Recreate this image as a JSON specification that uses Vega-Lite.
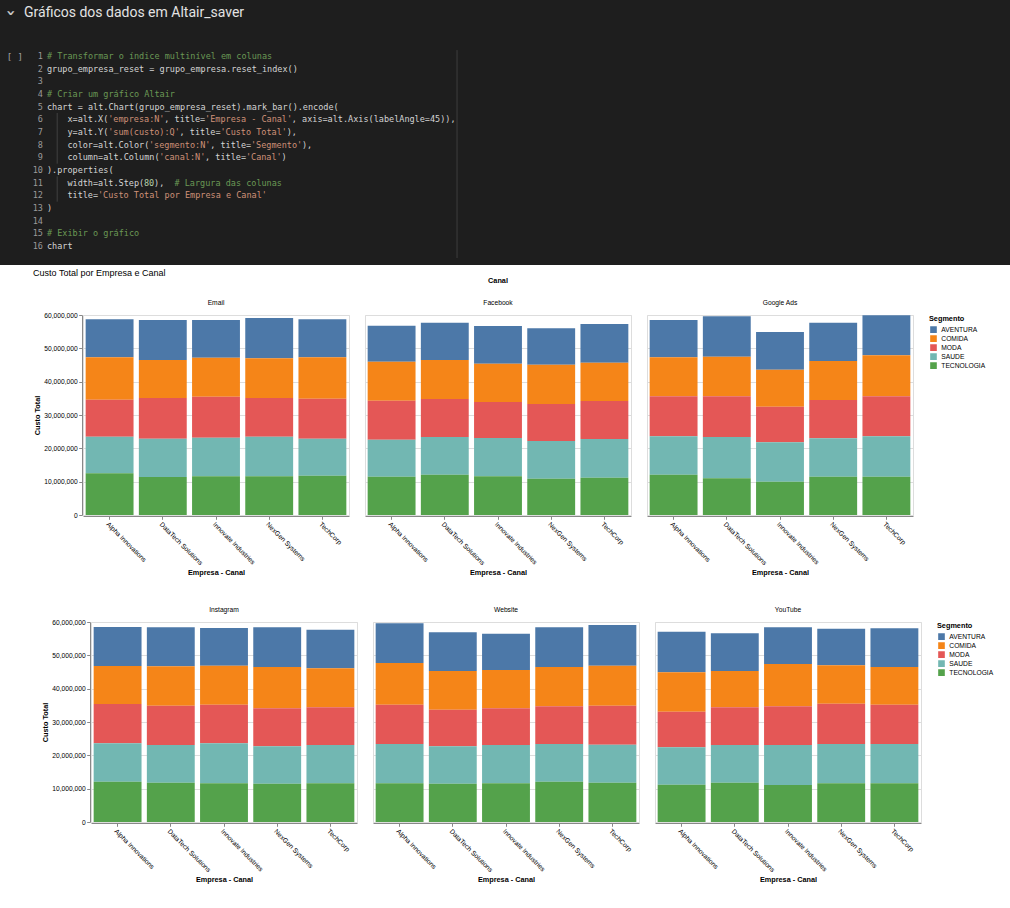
{
  "$schema": "https://vega.github.io/schema/vega-lite/v6.json",
  "background": "white",
  "padding": 0,
  "spacing": 3,
  "datasets": {
    "custos": [
      {"canal": "Email", "empresa": "Alpha Innovations", "AVENTURA": 11400000, "COMIDA": 12700000, "MODA": 11100000, "SAUDE": 11000000, "TECNOLOGIA": 12500000},
      {"canal": "Email", "empresa": "DataTech Solutions", "AVENTURA": 12000000, "COMIDA": 11400000, "MODA": 12200000, "SAUDE": 11500000, "TECNOLOGIA": 11400000},
      {"canal": "Email", "empresa": "Innovate Industries", "AVENTURA": 11300000, "COMIDA": 11700000, "MODA": 12300000, "SAUDE": 11600000, "TECNOLOGIA": 11600000},
      {"canal": "Email", "empresa": "NexGen Systems", "AVENTURA": 12100000, "COMIDA": 11900000, "MODA": 11600000, "SAUDE": 11900000, "TECNOLOGIA": 11600000},
      {"canal": "Email", "empresa": "TechCorp", "AVENTURA": 11400000, "COMIDA": 12400000, "MODA": 12000000, "SAUDE": 11100000, "TECNOLOGIA": 11800000},
      {"canal": "Facebook", "empresa": "Alpha Innovations", "AVENTURA": 10800000, "COMIDA": 11700000, "MODA": 11700000, "SAUDE": 11100000, "TECNOLOGIA": 11500000},
      {"canal": "Facebook", "empresa": "DataTech Solutions", "AVENTURA": 11200000, "COMIDA": 11700000, "MODA": 11400000, "SAUDE": 11300000, "TECNOLOGIA": 12100000},
      {"canal": "Facebook", "empresa": "Innovate Industries", "AVENTURA": 11300000, "COMIDA": 11500000, "MODA": 10800000, "SAUDE": 11500000, "TECNOLOGIA": 11600000},
      {"canal": "Facebook", "empresa": "NexGen Systems", "AVENTURA": 10900000, "COMIDA": 11800000, "MODA": 11100000, "SAUDE": 11300000, "TECNOLOGIA": 10900000},
      {"canal": "Facebook", "empresa": "TechCorp", "AVENTURA": 11600000, "COMIDA": 11500000, "MODA": 11400000, "SAUDE": 11600000, "TECNOLOGIA": 11200000},
      {"canal": "Google Ads", "empresa": "Alpha Innovations", "AVENTURA": 11200000, "COMIDA": 11700000, "MODA": 12000000, "SAUDE": 11500000, "TECNOLOGIA": 12100000},
      {"canal": "Google Ads", "empresa": "DataTech Solutions", "AVENTURA": 12100000, "COMIDA": 11900000, "MODA": 12200000, "SAUDE": 12400000, "TECNOLOGIA": 11000000},
      {"canal": "Google Ads", "empresa": "Innovate Industries", "AVENTURA": 11300000, "COMIDA": 11100000, "MODA": 10700000, "SAUDE": 11800000, "TECNOLOGIA": 10000000},
      {"canal": "Google Ads", "empresa": "NexGen Systems", "AVENTURA": 11500000, "COMIDA": 11700000, "MODA": 11500000, "SAUDE": 11500000, "TECNOLOGIA": 11500000},
      {"canal": "Google Ads", "empresa": "TechCorp", "AVENTURA": 12000000, "COMIDA": 12300000, "MODA": 12000000, "SAUDE": 12100000, "TECNOLOGIA": 11500000},
      {"canal": "Instagram", "empresa": "Alpha Innovations", "AVENTURA": 11700000, "COMIDA": 11400000, "MODA": 11800000, "SAUDE": 11500000, "TECNOLOGIA": 12100000},
      {"canal": "Instagram", "empresa": "DataTech Solutions", "AVENTURA": 11700000, "COMIDA": 11800000, "MODA": 11800000, "SAUDE": 11300000, "TECNOLOGIA": 11800000},
      {"canal": "Instagram", "empresa": "Innovate Industries", "AVENTURA": 11300000, "COMIDA": 11700000, "MODA": 11600000, "SAUDE": 12000000, "TECNOLOGIA": 11600000},
      {"canal": "Instagram", "empresa": "NexGen Systems", "AVENTURA": 11900000, "COMIDA": 12400000, "MODA": 11400000, "SAUDE": 11200000, "TECNOLOGIA": 11500000},
      {"canal": "Instagram", "empresa": "TechCorp", "AVENTURA": 11600000, "COMIDA": 11700000, "MODA": 11300000, "SAUDE": 11500000, "TECNOLOGIA": 11600000},
      {"canal": "Website", "empresa": "Alpha Innovations", "AVENTURA": 11900000, "COMIDA": 12500000, "MODA": 11800000, "SAUDE": 11800000, "TECNOLOGIA": 11600000},
      {"canal": "Website", "empresa": "DataTech Solutions", "AVENTURA": 11600000, "COMIDA": 11600000, "MODA": 11000000, "SAUDE": 11200000, "TECNOLOGIA": 11500000},
      {"canal": "Website", "empresa": "Innovate Industries", "AVENTURA": 10900000, "COMIDA": 11500000, "MODA": 11000000, "SAUDE": 11500000, "TECNOLOGIA": 11600000},
      {"canal": "Website", "empresa": "NexGen Systems", "AVENTURA": 11900000, "COMIDA": 11800000, "MODA": 11300000, "SAUDE": 11300000, "TECNOLOGIA": 12100000},
      {"canal": "Website", "empresa": "TechCorp", "AVENTURA": 12200000, "COMIDA": 12000000, "MODA": 11700000, "SAUDE": 11400000, "TECNOLOGIA": 11800000},
      {"canal": "YouTube", "empresa": "Alpha Innovations", "AVENTURA": 12200000, "COMIDA": 11800000, "MODA": 10700000, "SAUDE": 11200000, "TECNOLOGIA": 11200000},
      {"canal": "YouTube", "empresa": "DataTech Solutions", "AVENTURA": 11300000, "COMIDA": 10900000, "MODA": 11300000, "SAUDE": 11300000, "TECNOLOGIA": 11800000},
      {"canal": "YouTube", "empresa": "Innovate Industries", "AVENTURA": 11000000, "COMIDA": 12700000, "MODA": 11600000, "SAUDE": 12000000, "TECNOLOGIA": 11100000},
      {"canal": "YouTube", "empresa": "NexGen Systems", "AVENTURA": 11000000, "COMIDA": 11500000, "MODA": 12100000, "SAUDE": 11800000, "TECNOLOGIA": 11600000},
      {"canal": "YouTube", "empresa": "TechCorp", "AVENTURA": 11600000, "COMIDA": 11300000, "MODA": 11800000, "SAUDE": 11800000, "TECNOLOGIA": 11600000}
    ],
    "codigo": [
      {"line": 1, "col": 0, "kind": "comment", "text": "# Transformar o índice multinível em colunas"},
      {"line": 2, "col": 0, "kind": "code", "text": "grupo_empresa_reset = grupo_empresa.reset_index()"},
      {"line": 4, "col": 0, "kind": "comment", "text": "# Criar um gráfico Altair"},
      {"line": 5, "col": 0, "kind": "code", "text": "chart = alt.Chart(grupo_empresa_reset).mark_bar().encode("},
      {"line": 6, "col": 4, "kind": "code", "text": "x=alt.X("},
      {"line": 6, "col": 12, "kind": "string", "text": "'empresa:N'"},
      {"line": 6, "col": 23, "kind": "code", "text": ", title="},
      {"line": 6, "col": 31, "kind": "string", "text": "'Empresa - Canal'"},
      {"line": 6, "col": 48, "kind": "code", "text": ", axis=alt.Axis(labelAngle=45)),"},
      {"line": 7, "col": 4, "kind": "code", "text": "y=alt.Y("},
      {"line": 7, "col": 12, "kind": "string", "text": "'sum(custo):Q'"},
      {"line": 7, "col": 26, "kind": "code", "text": ", title="},
      {"line": 7, "col": 34, "kind": "string", "text": "'Custo Total'"},
      {"line": 7, "col": 47, "kind": "code", "text": "),"},
      {"line": 8, "col": 4, "kind": "code", "text": "color=alt.Color("},
      {"line": 8, "col": 20, "kind": "string", "text": "'segmento:N'"},
      {"line": 8, "col": 32, "kind": "code", "text": ", title="},
      {"line": 8, "col": 40, "kind": "string", "text": "'Segmento'"},
      {"line": 8, "col": 50, "kind": "code", "text": "),"},
      {"line": 9, "col": 4, "kind": "code", "text": "column=alt.Column("},
      {"line": 9, "col": 22, "kind": "string", "text": "'canal:N'"},
      {"line": 9, "col": 31, "kind": "code", "text": ", title="},
      {"line": 9, "col": 39, "kind": "string", "text": "'Canal'"},
      {"line": 9, "col": 46, "kind": "code", "text": ")"},
      {"line": 10, "col": 0, "kind": "code", "text": ").properties("},
      {"line": 11, "col": 4, "kind": "code", "text": "width=alt.Step("},
      {"line": 11, "col": 19, "kind": "number", "text": "80"},
      {"line": 11, "col": 21, "kind": "code", "text": "),"},
      {"line": 11, "col": 25, "kind": "comment", "text": "# Largura das colunas"},
      {"line": 12, "col": 4, "kind": "code", "text": "title="},
      {"line": 12, "col": 10, "kind": "string", "text": "'Custo Total por Empresa e Canal'"},
      {"line": 13, "col": 0, "kind": "code", "text": ")"},
      {"line": 15, "col": 0, "kind": "comment", "text": "# Exibir o gráfico"},
      {"line": 16, "col": 0, "kind": "code", "text": "chart"}
    ],
    "linhas": [
      {"line": 1}, {"line": 2}, {"line": 3}, {"line": 4}, {"line": 5}, {"line": 6}, {"line": 7}, {"line": 8},
      {"line": 9}, {"line": 10}, {"line": 11}, {"line": 12}, {"line": 13}, {"line": 14}, {"line": 15}, {"line": 16}
    ]
  },
  "vconcat": [
    {
      "width": 1010,
      "height": 265,
      "view": {"fill": "#1e1e1e", "stroke": null},
      "layer": [
        {
          "data": {"values": [{"a": 1}]},
          "mark": {"type": "rule", "color": "#3c3c3c", "strokeWidth": 1},
          "encoding": {
            "x": {"datum": 80.4, "type": "quantitative", "scale": {"domain": [0, 80], "range": [47, 455], "nice": false, "zero": false}, "axis": null},
            "y": {"datum": 0.53, "type": "quantitative", "scale": {"domain": [1, 16], "range": [56, 246], "nice": false, "zero": false}, "axis": null},
            "y2": {"datum": 16.95}
          }
        },
        {
          "data": {"values": [{"a": 1}]},
          "mark": {"type": "rule", "color": "#404040", "strokeWidth": 1},
          "encoding": {
            "x": {"datum": 2, "type": "quantitative", "axis": null},
            "y": {"datum": 5.5, "type": "quantitative", "axis": null},
            "y2": {"datum": 9.5}
          }
        },
        {
          "data": {"values": [{"a": 1}]},
          "mark": {"type": "rule", "color": "#404040", "strokeWidth": 1},
          "encoding": {
            "x": {"datum": 2, "type": "quantitative", "axis": null},
            "y": {"datum": 10.5, "type": "quantitative", "axis": null},
            "y2": {"datum": 12.5}
          }
        },
        {
          "data": {"name": "codigo"},
          "mark": {"type": "text", "align": "left", "baseline": "middle", "font": "DejaVu Sans Mono", "fontSize": 8.5},
          "encoding": {
            "x": {"field": "col", "type": "quantitative", "axis": null},
            "y": {"field": "line", "type": "quantitative", "axis": null},
            "text": {"field": "text"},
            "color": {"field": "kind", "type": "nominal", "scale": {"domain": ["code", "string", "comment", "number"], "range": ["#d4d4d4", "#ce9178", "#6a9955", "#b5cea8"]}, "legend": null}
          }
        },
        {
          "data": {"name": "linhas"},
          "mark": {"type": "text", "align": "right", "baseline": "middle", "font": "DejaVu Sans Mono", "fontSize": 8.5, "color": "#9a9a9a"},
          "encoding": {
            "x": {"datum": -0.8, "type": "quantitative", "axis": null},
            "y": {"field": "line", "type": "quantitative", "axis": null},
            "text": {"field": "line"}
          }
        },
        {
          "data": {"values": [{"t": "[ ]"}]},
          "mark": {"type": "text", "align": "center", "baseline": "middle", "font": "DejaVu Sans Mono", "fontSize": 9, "color": "#a0a0a0"},
          "encoding": {
            "x": {"datum": -6.3, "type": "quantitative", "axis": null},
            "y": {"datum": 1.05, "type": "quantitative", "axis": null},
            "text": {"field": "t"}
          }
        },
        {
          "data": {"values": [{"t": "›"}]},
          "mark": {"type": "text", "align": "center", "baseline": "middle", "font": "DejaVu Sans", "fontSize": 16, "fontWeight": "bold", "angle": 90, "color": "#c8c8c8"},
          "encoding": {
            "x": {"datum": -7.1, "type": "quantitative", "axis": null},
            "y": {"datum": -2.4, "type": "quantitative", "axis": null},
            "text": {"field": "t"}
          }
        },
        {
          "data": {"values": [{"t": "Gráficos dos dados em Altair_saver"}]},
          "mark": {"type": "text", "align": "left", "baseline": "middle", "font": "Roboto", "fontSize": 14, "color": "#e3e3e3"},
          "encoding": {
            "x": {"datum": -4.5, "type": "quantitative", "axis": null},
            "y": {"datum": -2.4, "type": "quantitative", "axis": null},
            "text": {"field": "t"}
          }
        }
      ]
    },
    {
      "spacing": 30,
      "resolve": {"scale": {"color": "independent"}},
      "vconcat": [
        {
          "spacing": 32,
          "resolve": {"scale": {"color": "independent"}},
          "hconcat": [
            {
              "width": 1,
              "height": 1,
              "view": {"stroke": null},
              "data": {"values": [{"a": 1}]},
              "mark": {"type": "point", "opacity": 0, "size": 0, "strokeWidth": 0},
              "encoding": {}
            },
            {
              "title": {"text": "Custo Total por Empresa e Canal", "anchor": "start", "fontSize": 9, "fontWeight": "normal", "offset": -1, "color": "#000"},
              "data": {"name": "custos"},
              "transform": [
                {"filter": {"field": "canal", "oneOf": ["Email", "Facebook", "Google Ads"]}},
                {"fold": ["AVENTURA", "COMIDA", "MODA", "SAUDE", "TECNOLOGIA"], "as": ["segmento", "custo"]}
              ],
              "facet": {"column": {"field": "canal", "type": "nominal", "title": "Canal"}},
              "spacing": 14,
              "spec": {
                "width": 266,
                "height": 200,
                "mark": "bar",
                "encoding": {
                  "x": {"field": "empresa", "type": "nominal", "title": "Empresa - Canal", "axis": {"labelAngle": 45}},
                  "y": {"aggregate": "sum", "field": "custo", "type": "quantitative", "title": "Custo Total"},
                  "color": {"field": "segmento", "type": "nominal", "title": "Segmento"}
                }
              }
            }
          ]
        },
        {
          "spacing": 40,
          "resolve": {"scale": {"color": "independent"}},
          "hconcat": [
            {
              "width": 1,
              "height": 1,
              "view": {"stroke": null},
              "data": {"values": [{"a": 1}]},
              "mark": {"type": "point", "opacity": 0, "size": 0, "strokeWidth": 0},
              "encoding": {}
            },
            {
              "data": {"name": "custos"},
              "transform": [
                {"filter": {"field": "canal", "oneOf": ["Instagram", "Website", "YouTube"]}},
                {"fold": ["AVENTURA", "COMIDA", "MODA", "SAUDE", "TECNOLOGIA"], "as": ["segmento", "custo"]}
              ],
              "facet": {"column": {"field": "canal", "type": "nominal", "title": null}},
              "spacing": 14,
              "spec": {
                "width": 266,
                "height": 200,
                "mark": "bar",
                "encoding": {
                  "x": {"field": "empresa", "type": "nominal", "title": "Empresa - Canal", "axis": {"labelAngle": 45}},
                  "y": {"aggregate": "sum", "field": "custo", "type": "quantitative", "title": "Custo Total"},
                  "color": {"field": "segmento", "type": "nominal", "title": "Segmento"}
                }
              }
            }
          ]
        }
      ]
    }
  ],
  "resolve": {"scale": {"color": "independent"}},
  "config": {
    "font": "Liberation Sans",
    "axis": {"labelFontSize": 6.7, "titleFontSize": 7.3, "tickSize": 3.3, "labelPadding": 1.5, "titlePadding": 2.7},
    "header": {"labelFontSize": 6.7, "titleFontSize": 7.3, "labelPadding": 7, "titlePadding": 6, "titleFontWeight": "bold"},
    "legend": {"labelFontSize": 6.7, "titleFontSize": 7.3, "symbolSize": 44, "offset": 15, "rowPadding": 0, "clipHeight": 8.6, "titlePadding": 3, "labelOffset": 3.3, "symbolType": "square"}
  }
}
